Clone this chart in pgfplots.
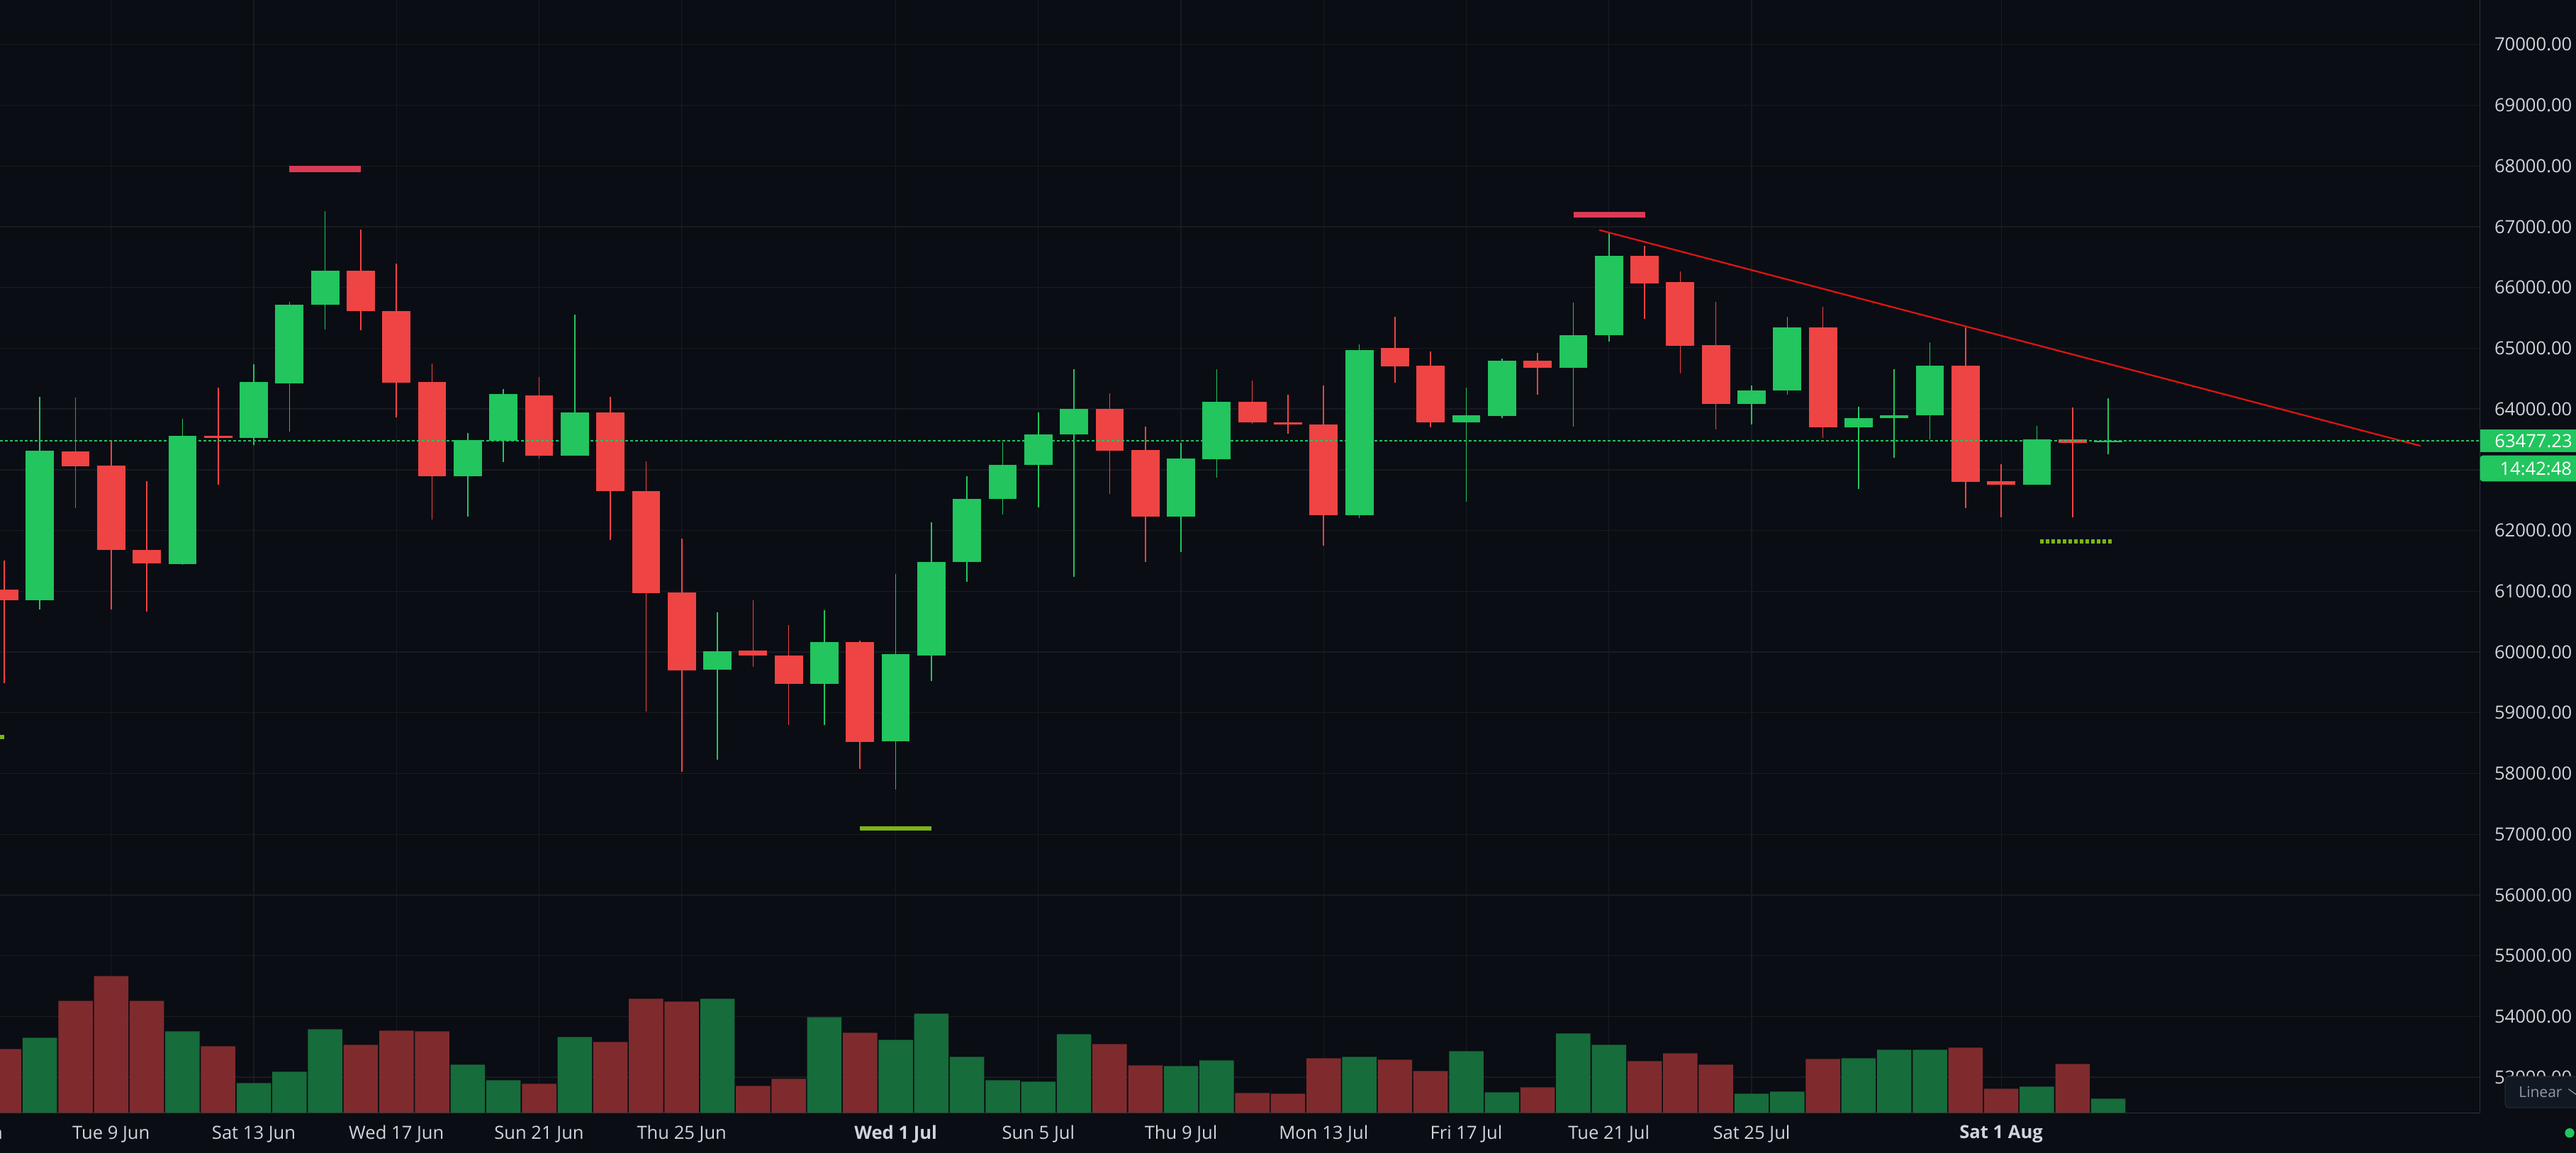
\documentclass[border=0pt]{standalone}
\usepackage{pgfplots}
\pgfplotsset{compat=1.18}
\usepackage{pgfplotstable}
\usepackage{fontspec}
\setmainfont{Open Sans}

\definecolor{bg}{RGB}{10,13,19}
\definecolor{gridc}{RGB}{24,28,33}
\definecolor{upc}{RGB}{34,197,94}
\definecolor{dnc}{RGB}{239,68,68}
\definecolor{volup}{RGB}{23,108,59}
\definecolor{voldn}{RGB}{127,43,46}
\definecolor{mkred}{RGB}{217,59,87}
\definecolor{mklime}{RGB}{124,181,24}
\definecolor{trend}{RGB}{224,20,20}
\definecolor{borderc}{RGB}{42,52,65}
\definecolor{lbl}{RGB}{209,212,220}
\definecolor{btnfill}{RGB}{18,24,33}
\definecolor{btnedge}{RGB}{35,42,53}
\definecolor{btntext}{RGB}{143,152,168}

% t = day number (Jun d -> d, Jul d -> 30+d, Aug d -> 61+d); v = volume (relative)
\pgfplotstableread{
t o h l c v
7 60848 64196 60705 63312 106.3
11 61446 63839 61440 63553 115.3
13 63526 64732 63401 64446 42.3
14 64419 65759 63634 65714 58.3
15 65714 67259 65312 66277 118.3
19 62893 63607 62232 63491 68.3
20 63482 64330 63125 64241 46.3
22 63232 65553 63232 63946 107.3
26 59705 60651 58232 60009 161.3
29 59473 60687 58794 60160 135.3
31 58526 61285 57732 59964 103.3
32 59946 62134 59517 61482 140.3
33 61482 62893 61160 62517 79.3
34 62517 63455 62267 63080 46.3
35 63080 63946 62384 63580 44.3
36 63580 64652 61241 64000 111.3
39 62232 63437 61642 63187 66.3
40 63169 64652 62875 64116 74.3
44 62250 65062 62205 64973 79.3
47 63777 64348 62473 63893 87.3
48 63884 64830 63848 64794 29.3
50 64678 65750 63705 65214 112.3
51 65214 66911 65107 66518 96.3
55 64080 64384 63741 64303 27.3
56 64303 65518 64232 65339 30.3
58 63696 64035 62678 63848 77.3
59 63848 64652 63196 63893 89.3
60 63893 65098 63500 64714 89.3
63 62750 63723 62750 63500 37.3
65 63455 64178 63259 63477.23 20.3
}\upcandles

\pgfplotstableread{
t o h l c v
6 61026 61500 59482 60848 90.3
8 63303 64187 62366 63053 158.3
9 63071 63482 60705 61678 193.3
10 61678 62812 60669 61455 158.3
12 63553 64348 62759 63520 94.3
16 66277 66955 65294 65607 96.3
17 65607 66393 63857 64437 116.3
18 64446 64750 62178 62893 115.3
21 64223 64527 63187 63232 41.3
23 63946 64196 61848 62643 100.3
24 62643 63134 59017 60973 161.3
25 60982 61866 58026 59696 157.3
27 60018 60848 59759 59937 38.3
28 59937 60446 58803 59473 48.3
30 60160 60187 58071 58517 113.3
37 64000 64259 62598 63312 97.3
38 63321 63705 61482 62232 67.3
41 64116 64464 63760 63777 28.3
42 63777 64232 63589 63741 27.3
43 63741 64384 61750 62250 77.3
45 65000 65518 64428 64705 75.3
46 64714 64946 63696 63785 59.3
49 64794 64920 64232 64678 36.3
52 66518 66687 65482 66071 73.3
53 66089 66268 64580 65044 84.3
54 65053 65759 63660 64080 68.3
57 65339 65678 63526 63696 76.3
61 64714 65339 62366 62803 92.3
62 62812 63089 62214 62750 34.3
64 63500 64027 62214 63446 69.3
}\dncandles

\newcommand{\lblfont}{\fontsize{5.12pt}{6pt}\selectfont}

\begin{document}
\begin{tikzpicture}
\path[use as bounding box] (0pt,0pt) rectangle (726.8pt,325.2pt);
\fill[bg] (-20pt,-20pt) rectangle (746.8pt,345.2pt);

% ---------------- price axis ----------------
\begin{axis}[
  at={(0pt,11.06pt)}, anchor=south west, scale only axis,
  width=699.7pt, height=314.14pt,
  xmin=5.883, xmax=75.425, ymin=52409, ymax=70732.7,
  axis line style={draw=none},
  tick style={draw=none}, major tick length=0pt,
  grid=major, major grid style={draw=gridc, line width=0.26pt},
  xtick={9,13,17,21,25,31,35,39,43,47,51,55,62},
  xticklabels={Tue 9 Jun, Sat 13 Jun, Wed 17 Jun, Sun 21 Jun, Thu 25 Jun, \textbf{Wed 1 Jul}, Sun 5 Jul, Thu 9 Jul, Mon 13 Jul, Fri 17 Jul, Tue 21 Jul, Sat 25 Jul, \textbf{Sat 1 Aug}},
  ytick={53000,54000,...,70000},
  yticklabels={53000.00,54000.00,55000.00,56000.00,57000.00,58000.00,59000.00,60000.00,61000.00,62000.00,63000.00,64000.00,65000.00,66000.00,67000.00,68000.00,69000.00,70000.00},
  yticklabel pos=right,
  ticklabel style={font=\lblfont, text=lbl, inner sep=0pt},
  xticklabel style={anchor=center, yshift=-5.9pt},
  yticklabel style={anchor=west, xshift=3.9pt},
]
% wicks
\addplot[draw=none, mark=none, forget plot,
  error bars/.cd, y dir=both, y explicit, error mark=none,
  error bar style={draw=upc, line width=0.32pt}]
  table[x=t, y=o, y error plus expr=\thisrow{h}-\thisrow{o}, y error minus expr=\thisrow{o}-\thisrow{l}] {\upcandles};
\addplot[draw=none, mark=none, forget plot,
  error bars/.cd, y dir=both, y explicit, error mark=none,
  error bar style={draw=dnc, line width=0.32pt}]
  table[x=t, y=o, y error plus expr=\thisrow{h}-\thisrow{o}, y error minus expr=\thisrow{o}-\thisrow{l}] {\dncandles};
% bodies
\addplot[draw=none, mark=none, forget plot,
  error bars/.cd, y dir=plus, y explicit, error mark=none,
  error bar style={draw=upc, line width=7.96pt}]
  table[x=t, y=o, y error plus expr=\thisrow{c}-\thisrow{o}] {\upcandles};
\addplot[draw=none, mark=none, forget plot,
  error bars/.cd, y dir=minus, y explicit, error mark=none,
  error bar style={draw=dnc, line width=7.96pt}]
  table[x=t, y=o, y error minus expr=\thisrow{o}-\thisrow{c}] {\dncandles};
% level markers
\addplot[mkred, line width=1.75pt, forget plot] coordinates {(13.99,67951) (16.0,67951)};
\addplot[mkred, line width=1.6pt, forget plot] coordinates {(50.01,67201) (52.01,67201)};
\addplot[mklime, line width=1.15pt, forget plot] coordinates {(30.0,57096) (32.0,57096)};
\addplot[mklime, line width=1.2pt, forget plot] coordinates {(4.0,58598) (6.0,58598)};
\addplot[mklime, line width=1.2pt, dash pattern=on 0.94pt off 0.66pt, forget plot] coordinates {(63.1,61822) (65.12,61822)};
% trend line
\addplot[trend, line width=0.45pt, forget plot] coordinates {(50.73,66946) (73.76,63393)};
% current price line
\addplot[upc, line width=0.27pt, dash pattern=on 0.8pt off 0.6pt, forget plot] coordinates {(5.883,63477.23) (75.425,63477.23)};
\end{axis}

% ---------------- volume axis ----------------
\begin{axis}[
  at={(0pt,11.06pt)}, anchor=south west, scale only axis,
  width=699.7pt, height=314.14pt,
  xmin=5.883, xmax=75.425, ymin=0, ymax=1570.7,
  hide axis,
]
\addplot[ybar, bar width=0.964, bar shift=0pt, fill=volup, draw=none] table[x=t, y=v] {\upcandles};
\addplot[ybar, bar width=0.964, bar shift=0pt, fill=voldn, draw=none] table[x=t, y=v] {\dncandles};
\end{axis}

% borders
\draw[borderc, line width=0.28pt] (0pt,11.06pt) -- (699.7pt,11.06pt) -- (699.7pt,330pt);

% partial left date label
\node[font=\lblfont, text=lbl, inner sep=0pt, anchor=center] at (-8.88pt,5.2pt) {Fri 5 Jun};

% current price labels
\fill[upc] (699.7pt,197.54pt) rectangle (730pt,204.06pt);
\node[font=\lblfont, text=white, inner sep=0pt, anchor=west] at (703.66pt,200.8pt) {63477.23};
\fill[upc, rounded corners=0.8pt] (699.7pt,189.34pt) rectangle (732pt,196.66pt);
\node[font=\lblfont, text=white, inner sep=0pt, anchor=west] at (705.1pt,193.0pt) {14:42:48};

% Linear button
\filldraw[fill=btnfill, draw=btnedge, line width=0.25pt, rounded corners=1pt] (706.8pt,12.6pt) rectangle (735pt,21.4pt);
\node[font=\fontsize{4.2pt}{5pt}\selectfont, text=btntext, inner sep=0pt, anchor=west] at (710.46pt,17.0pt) {Linear};
\draw[btntext, line width=0.25pt] (724.67pt,17.86pt) -- (726.67pt,16.4pt) -- (728.67pt,17.86pt);

% status dot
\fill[upc] (725pt,5.46pt) circle (1.34pt);
\end{tikzpicture}
\end{document}
